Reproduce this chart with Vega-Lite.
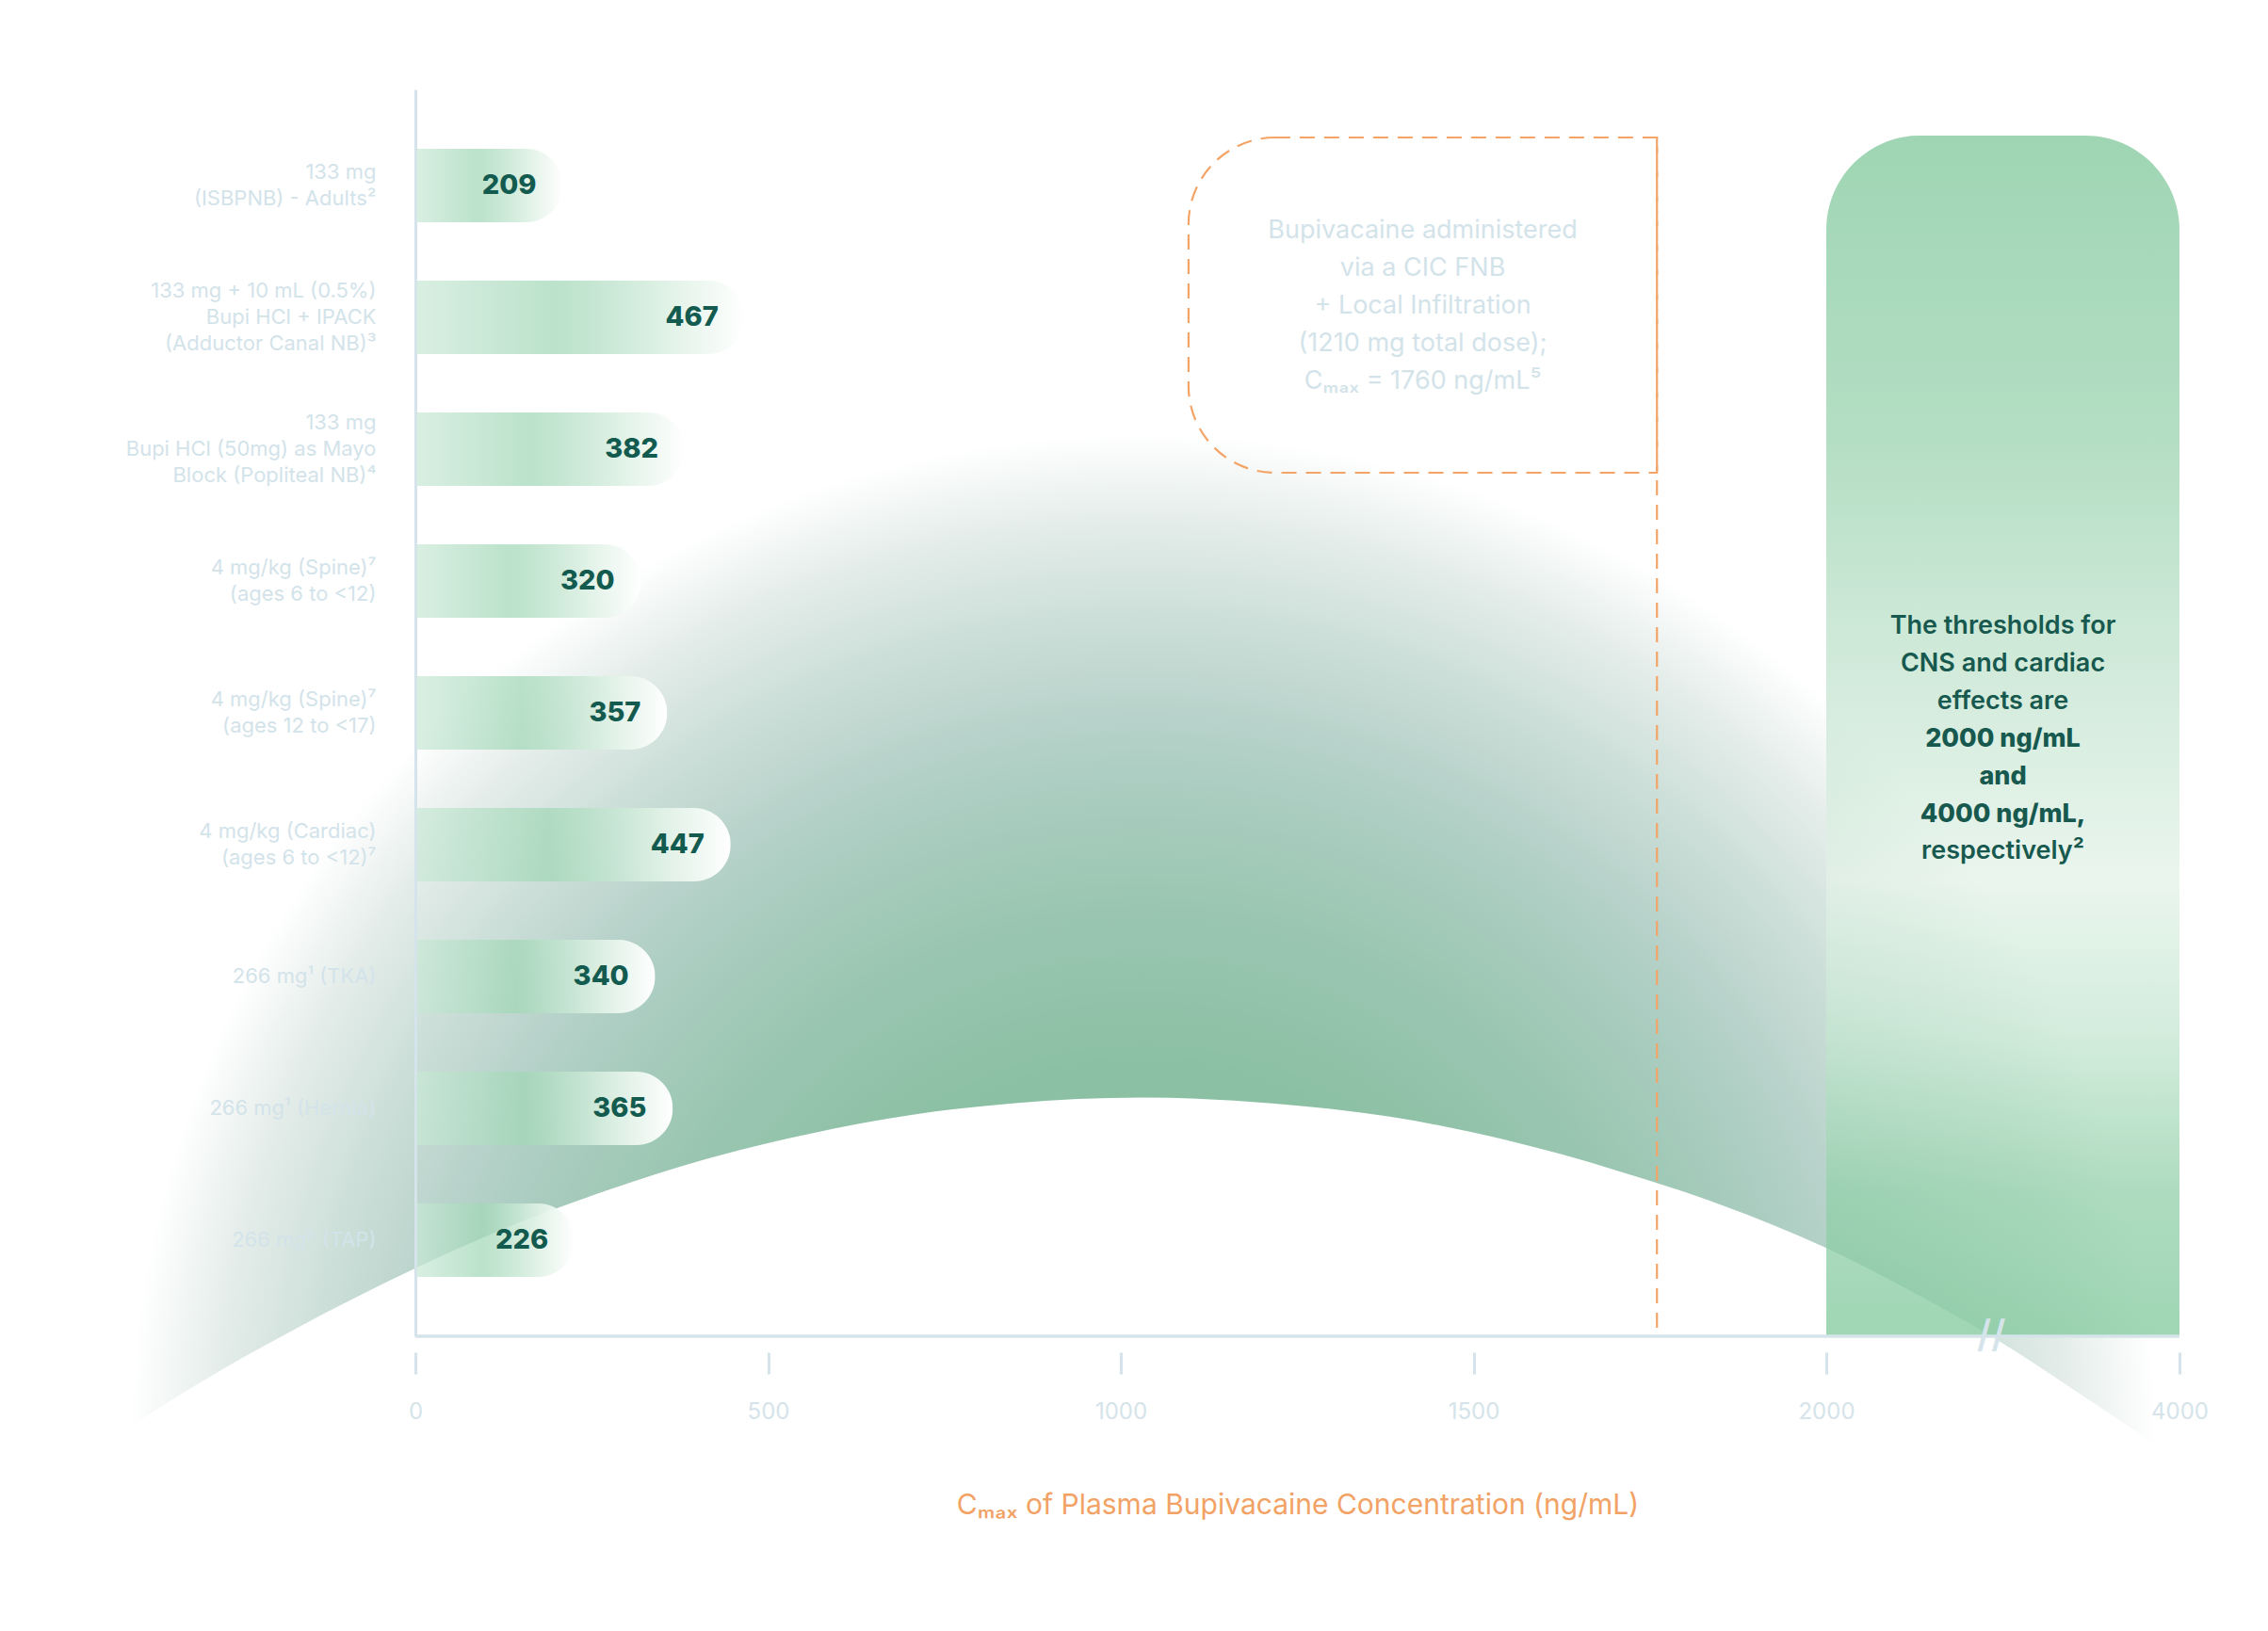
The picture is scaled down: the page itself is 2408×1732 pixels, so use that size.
{
  "$schema": "https://vega.github.io/schema/vega-lite/v6.json",
  "width": 1881,
  "height": 1324,
  "autosize": {"type": "none"},
  "padding": {"left": 441, "top": 95, "right": 86, "bottom": 313},
  "background": "white",
  "config": {"view": {"stroke": null}, "font": "Inter"},
  "datasets": {
    "bars": [
      {"treatment": "133 mg\n(ISBPNB) - Adults²", "cmax": 209},
      {"treatment": "133 mg + 10 mL (0.5%)\nBupi HCl + IPACK\n(Adductor Canal NB)³", "cmax": 467},
      {"treatment": "133 mg\nBupi HCl (50mg) as Mayo\nBlock (Popliteal NB)⁴", "cmax": 382},
      {"treatment": "4 mg/kg (Spine)⁷\n(ages 6 to <12)", "cmax": 320},
      {"treatment": "4 mg/kg (Spine)⁷\n(ages 12 to <17)", "cmax": 357},
      {"treatment": "4 mg/kg (Cardiac)\n(ages 6 to <12)⁷", "cmax": 447},
      {"treatment": "266 mg¹ (TKA)", "cmax": 340},
      {"treatment": "266 mg¹ (Hernia)", "cmax": 365},
      {"treatment": "266 mg⁸ (TAP)", "cmax": 226}
    ],
    "blob": [
      {"conc": -434, "upper": 700, "lower": -73},
      {"conc": -402, "upper": 74, "lower": -62},
      {"conc": -281, "upper": 243, "lower": -25},
      {"conc": -178, "upper": 328, "lower": 3},
      {"conc": 0, "upper": 432, "lower": 47},
      {"conc": 129, "upper": 488, "lower": 75},
      {"conc": 273, "upper": 536, "lower": 101},
      {"conc": 416, "upper": 573, "lower": 123},
      {"conc": 559, "upper": 601, "lower": 140},
      {"conc": 703, "upper": 621, "lower": 153},
      {"conc": 846, "upper": 633, "lower": 161},
      {"conc": 1031, "upper": 639, "lower": 165},
      {"conc": 1215, "upper": 633, "lower": 161},
      {"conc": 1379, "upper": 618, "lower": 152},
      {"conc": 1543, "upper": 594, "lower": 136},
      {"conc": 1707, "upper": 558, "lower": 114},
      {"conc": 1850, "upper": 517, "lower": 91},
      {"conc": 2000, "upper": 460, "lower": 61},
      {"conc": 2467, "upper": 404, "lower": 32},
      {"conc": 2934, "upper": 332, "lower": 0},
      {"conc": 3451, "upper": 222, "lower": -41},
      {"conc": 3984, "upper": -76, "lower": -85}
    ]
  },
  "layer": [
    {
      "data": {"name": "blob"},
      "mark": {
        "type": "area",
        "interpolate": "monotone",
        "fill": {
          "gradient": "radial",
          "x1": 0.5, "y1": 0.7685, "r1": 0,
          "x2": 0.5, "y2": 0.7685, "r2": 0.49,
          "stops": [
            {"offset": 0, "color": "#84be9e"},
            {"offset": 0.38, "color": "#8cc0a4"},
            {"offset": 0.53, "color": "#9ac6b1"},
            {"offset": 0.64, "color": "#a9ccbf"},
            {"offset": 0.72, "color": "#b7d2ca"},
            {"offset": 0.82, "color": "#cddfd9"},
            {"offset": 0.91, "color": "#e3ece9"},
            {"offset": 1, "color": "#ffffff"}
          ]
        }
      },
      "encoding": {
        "x": {
          "field": "conc", "type": "quantitative",
          "scale": {"domain": [0, 2000, 4000], "range": [0, 1498, 1873], "nice": false, "zero": false},
          "axis": {
            "values": [0, 500, 1000, 1500, 2000, 4000],
            "format": "d",
            "domain": false,
            "grid": false,
            "offset": 17,
            "tickSize": 23,
            "tickWidth": 3,
            "tickColor": "#d5e4ea",
            "labelColor": "#d5e4ea",
            "labelFont": "Inter",
            "labelFontSize": 24,
            "labelPadding": 28,
            "labelFlush": false,
            "title": "Cₘₐₓ of Plasma Bupivacaine Concentration (ng/mL)",
            "titleColor": "#f2a265",
            "titleFont": "Inter",
            "titleFontSize": 30,
            "titleFontWeight": "normal",
            "titlePadding": 72,
            "zindex": 1
          }
        },
        "y": {"field": "upper", "type": "quantitative", "scale": {"domain": [0, 862], "nice": false, "zero": false}, "axis": null},
        "y2": {"field": "lower"}
      }
    },
    {
      "layer": [
        {
          "data": {"values": [{}]},
          "mark": {
            "type": "rect",
            "cornerRadiusTopLeft": 100,
            "cornerRadiusTopRight": 100,
            "yOffset": -14,
            "fill": {
              "gradient": "linear", "x1": 0, "y1": 0, "x2": 0, "y2": 1,
              "stops": [
                {"offset": 0, "color": "rgba(127,199,154,0.75)"},
                {"offset": 0.25, "color": "rgba(154,211,175,0.75)"},
                {"offset": 0.4, "color": "rgba(186,224,200,0.75)"},
                {"offset": 0.62, "color": "rgba(227,242,232,0.75)"},
                {"offset": 0.75, "color": "rgba(196,230,208,0.75)"},
                {"offset": 0.88, "color": "rgba(147,208,170,0.75)"},
                {"offset": 1, "color": "rgba(128,200,155,0.75)"}
              ]
            }
          },
          "encoding": {
            "x": {"datum": 2000},
            "x2": {"datum": 4000},
            "y": {"datum": "133 mg\n(ISBPNB) - Adults²", "type": "nominal", "bandPosition": 0},
            "y2": {"value": "height"}
          }
        },
        {
          "data": {"values": [{}]},
          "mark": {
            "type": "rect",
            "filled": false,
            "stroke": "#f3a466",
            "strokeWidth": 2.2,
            "strokeDash": [16, 10],
            "cornerRadiusTopLeft": 92,
            "cornerRadiusBottomLeft": 92,
            "yOffset": -12,
            "y2Offset": -14
          },
          "encoding": {
            "x": {"datum": 1096},
            "x2": {"datum": 1760},
            "y": {"datum": "133 mg\n(ISBPNB) - Adults²", "type": "nominal", "bandPosition": 0},
            "y2": {"datum": "133 mg\nBupi HCl (50mg) as Mayo\nBlock (Popliteal NB)⁴", "bandPosition": 1}
          }
        },
        {
          "data": {"values": [{}]},
          "mark": {"type": "rule", "stroke": "#f3a466", "strokeWidth": 2.2, "strokeDash": [16, 10], "yOffset": -12},
          "encoding": {
            "x": {"datum": 1760},
            "y": {"datum": "133 mg\n(ISBPNB) - Adults²", "type": "nominal", "bandPosition": 0},
            "y2": {"value": "height"}
          }
        },
        {
          "data": {"name": "bars"},
          "mark": {
            "type": "bar",
            "cornerRadiusEnd": 39,
            "fill": {
              "gradient": "linear", "x1": 0, "y1": 0, "x2": 1, "y2": 0,
              "stops": [
                {"offset": 0, "color": "rgba(201,232,214,0.7)"},
                {"offset": 0.42, "color": "rgba(161,215,182,0.72)"},
                {"offset": 0.78, "color": "rgba(225,242,231,0.93)"},
                {"offset": 1, "color": "rgba(255,255,255,1)"}
              ]
            }
          },
          "encoding": {
            "x": {
              "field": "cmax", "type": "quantitative",
              "scale": {"domain": [0, 2000, 4000], "range": [0, 1498, 1873], "nice": false, "zero": false},
              "axis": {
                "values": [0, 500, 1000, 1500, 2000, 4000],
                "format": "d",
                "domain": false,
                "grid": false,
                "offset": 17,
                "tickSize": 23,
                "tickWidth": 3,
                "tickColor": "#d5e4ea",
                "labelColor": "#d5e4ea",
                "labelFont": "Inter",
                "labelFontSize": 24,
                "labelPadding": 28,
                "labelFlush": false,
                "title": "Cₘₐₓ of Plasma Bupivacaine Concentration (ng/mL)",
                "titleColor": "#f2a265",
                "titleFont": "Inter",
                "titleFontSize": 30,
                "titleFontWeight": "normal",
                "titlePadding": 72,
                "zindex": 1
              }
            },
            "y": {
              "field": "treatment", "type": "nominal", "sort": null,
              "scale": {
                "domain": [
                  "133 mg\n(ISBPNB) - Adults²",
                  "133 mg + 10 mL (0.5%)\nBupi HCl + IPACK\n(Adductor Canal NB)³",
                  "133 mg\nBupi HCl (50mg) as Mayo\nBlock (Popliteal NB)⁴",
                  "4 mg/kg (Spine)⁷\n(ages 6 to <12)",
                  "4 mg/kg (Spine)⁷\n(ages 12 to <17)",
                  "4 mg/kg (Cardiac)\n(ages 6 to <12)⁷",
                  "266 mg¹ (TKA)",
                  "266 mg¹ (Hernia)",
                  "266 mg⁸ (TAP)"
                ],
                "paddingInner": 0.443,
                "paddingOuter": 0.45
              },
              "axis": {
                "title": null,
                "labelExpr": "split(datum.label, '\\n')",
                "labelOffset": {
                  "condition": [
                    {"test": "length(split(datum.value, '\\n')) == 3", "value": -28},
                    {"test": "length(split(datum.value, '\\n')) == 2", "value": -14}
                  ],
                  "value": 0
                },
                "ticks": false,
                "domain": true,
                "domainColor": "#d5e4ea",
                "domainWidth": 3,
                "labelColor": "#d3e3ea",
                "labelFont": "Inter",
                "labelFontSize": 22,
                "labelLineHeight": 28,
                "labelPadding": 42,
                "labelLimit": 500,
                "zindex": 1
              }
            }
          }
        },
        {
          "data": {"name": "bars"},
          "mark": {"type": "text", "align": "right", "baseline": "middle", "dx": -28, "fontSize": 29, "fontWeight": 800, "color": "#135a4f", "font": "Inter"},
          "encoding": {
            "x": {"field": "cmax", "type": "quantitative"},
            "y": {"field": "treatment", "type": "nominal", "sort": null},
            "text": {"field": "cmax", "type": "quantitative"}
          }
        },
        {
          "data": {"values": [{}]},
          "mark": {
            "type": "text", "align": "center", "baseline": "middle", "dy": -92,
            "fontSize": 27, "lineHeight": 40, "color": "#d3e3ea", "font": "Inter",
            "text": ["Bupivacaine administered", "via a CIC FNB", "+ Local Infiltration", "(1210 mg total dose);", "Cₘₐₓ = 1760 ng/mL⁵"]
          },
          "encoding": {
            "x": {"datum": 1428},
            "y": {"datum": "133 mg + 10 mL (0.5%)\nBupi HCl + IPACK\n(Adductor Canal NB)³", "type": "nominal", "bandPosition": 0.5}
          }
        },
        {
          "data": {"values": [{}]},
          "mark": {
            "type": "text", "align": "center", "baseline": "middle", "dy": -92,
            "fontSize": 27, "lineHeight": 40, "fontWeight": 600, "color": "#17594e", "font": "Inter",
            "text": ["The thresholds for", "CNS and cardiac", "effects are"]
          },
          "encoding": {
            "x": {"datum": 3000},
            "y": {"datum": "4 mg/kg (Spine)⁷\n(ages 12 to <17)", "type": "nominal", "bandPosition": 0.5}
          }
        },
        {
          "data": {"values": [{}]},
          "mark": {
            "type": "text", "align": "center", "baseline": "middle", "dy": 28,
            "fontSize": 27, "lineHeight": 40, "fontWeight": 800, "color": "#17594e", "font": "Inter",
            "text": ["2000 ng/mL", "and", "4000 ng/mL,"]
          },
          "encoding": {
            "x": {"datum": 3000},
            "y": {"datum": "4 mg/kg (Spine)⁷\n(ages 12 to <17)", "type": "nominal", "bandPosition": 0.5}
          }
        },
        {
          "data": {"values": [{}]},
          "mark": {
            "type": "text", "align": "center", "baseline": "middle", "dy": 147,
            "fontSize": 27, "fontWeight": 600, "color": "#17594e", "font": "Inter",
            "text": "respectively²"
          },
          "encoding": {
            "x": {"datum": 3000},
            "y": {"datum": "4 mg/kg (Spine)⁷\n(ages 12 to <17)", "type": "nominal", "bandPosition": 0.5}
          }
        },
        {
          "data": {"values": [{}]},
          "mark": {"type": "rule", "stroke": "#d5e4ea", "strokeWidth": 3.5},
          "encoding": {
            "x": {"datum": 0},
            "x2": {"datum": 4000},
            "y": {"value": "height"}
          }
        },
        {
          "data": {"values": [{}]},
          "mark": {"type": "text", "align": "center", "baseline": "middle", "fontSize": 40, "fontWeight": 600, "color": "#d5e4ea", "font": "Inter", "text": "//"},
          "encoding": {
            "x": {"datum": 2934},
            "y": {"value": "height"}
          }
        }
      ]
    }
  ],
  "resolve": {"scale": {"y": "independent"}}
}
